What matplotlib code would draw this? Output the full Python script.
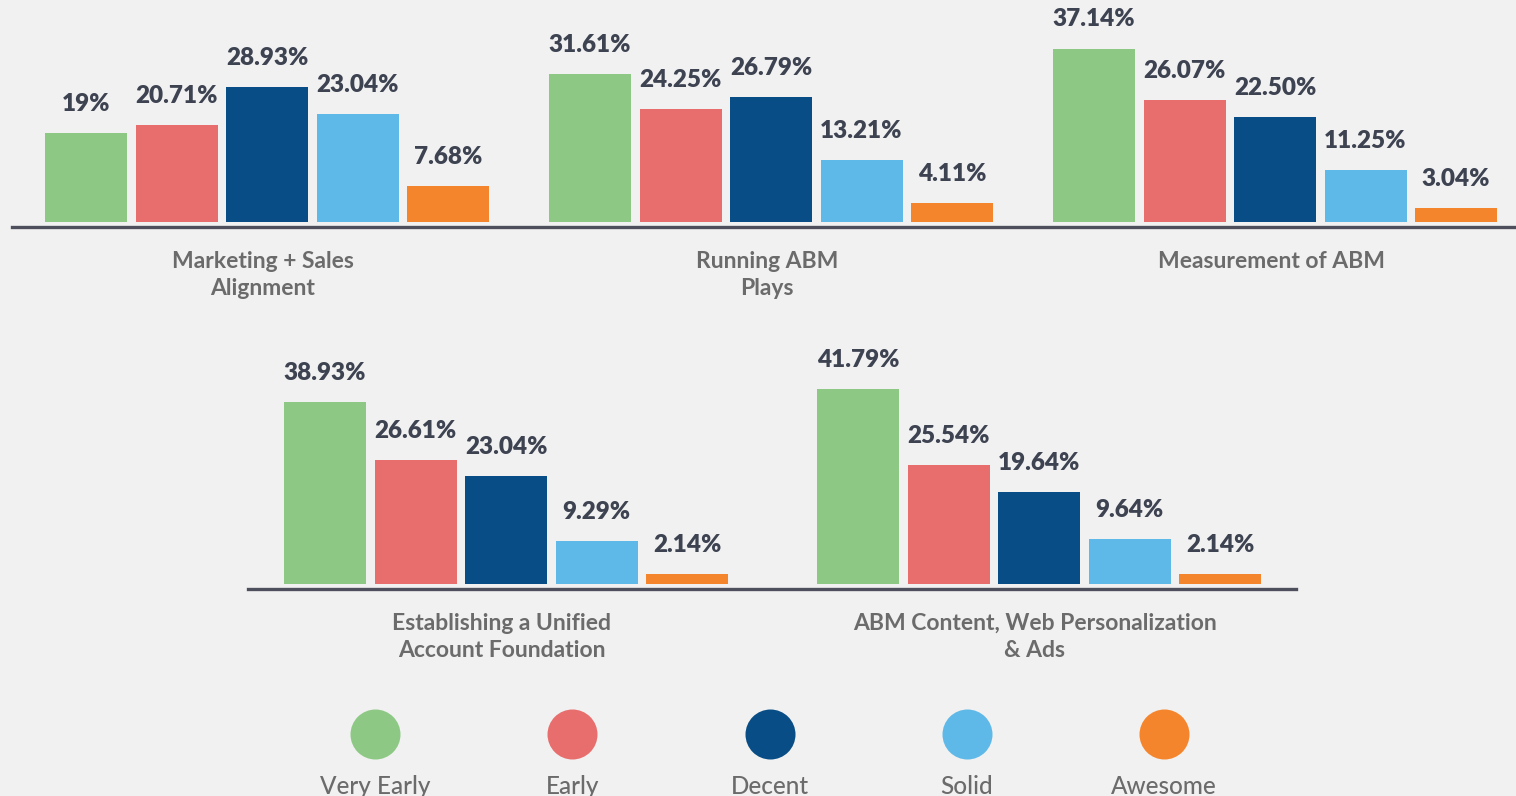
#!/usr/bin/env python3
"""ABM maturity by practice area: grouped bars in two rows plus a circle legend."""

import matplotlib

matplotlib.use("Agg")
import matplotlib.pyplot as plt


LEVELS = ["Very Early", "Early", "Decent", "Solid", "Awesome"]
COLORS = ["#8dc985", "#e76e6d", "#084d85", "#5fb9e8", "#f5852d"]

TOP_CATEGORIES = [
    "Marketing + Sales\nAlignment",
    "Running ABM\nPlays",
    "Measurement of ABM",
]
TOP_VALUES = [
    [19.00, 20.71, 28.93, 23.04, 7.68],
    [31.61, 24.25, 26.79, 13.21, 4.11],
    [37.14, 26.07, 22.50, 11.25, 3.04],
]
TOP_LABELS = [
    ["19%", "20.71%", "28.93%", "23.04%", "7.68%"],
    ["31.61%", "24.25%", "26.79%", "13.21%", "4.11%"],
    ["37.14%", "26.07%", "22.50%", "11.25%", "3.04%"],
]

BOTTOM_CATEGORIES = [
    "Establishing a Unified\nAccount Foundation",
    "ABM Content, Web Personalization\n& Ads",
]
BOTTOM_VALUES = [
    [38.93, 26.61, 23.04, 9.29, 2.14],
    [41.79, 25.54, 19.64, 9.64, 2.14],
]
BOTTOM_LABELS = [
    ["38.93%", "26.61%", "23.04%", "9.29%", "2.14%"],
    ["41.79%", "25.54%", "19.64%", "9.64%", "2.14%"],
]

BG = "#f1f1f1"
VALUE_COLOR = "#3e4352"
CAT_COLOR = "#6b6b6b"
AXIS_COLOR = "#4d4f5c"

W, H = 1516, 796
PX_PER_PCT = 4.68
BAR_STEP = 90.5
BAR_WIDTH = 82

plt.rcParams["font.family"] = ["Lato", "DejaVu Sans"]


def bar_row(fig, left, bottom, width, height, centers, values, labels, cats):
    ax = fig.add_axes([left / W, bottom / H, width / W, height / H])
    ax.set_facecolor("none")
    ax.set_xlim(0, width)
    ax.set_ylim(-1, height / PX_PER_PCT - 1)
    for center, vals, labs, cat in zip(centers, values, labels, cats):
        for i, (v, lab) in enumerate(zip(vals, labs)):
            x = center + (i - 2) * BAR_STEP
            ax.bar(x, v, width=BAR_WIDTH, color=COLORS[i], linewidth=0)
            ax.annotate(lab, (x, v), xytext=(0, 13), textcoords="offset points",
                        ha="center", va="bottom", fontsize=17.5, fontweight="heavy",
                        color=VALUE_COLOR)
        ax.annotate(cat, (center - 4, -1), xytext=(0, -17), textcoords="offset points",
                    ha="center", va="top", fontsize=16.5, fontweight="bold",
                    color=CAT_COLOR, linespacing=1.35, annotation_clip=False)
    for side in ("top", "left", "right"):
        ax.spines[side].set_visible(False)
    ax.spines["bottom"].set_color(AXIS_COLOR)
    ax.spines["bottom"].set_linewidth(2.4)
    ax.spines["bottom"].set_position(("data", -1))
    ax.set_xticks([])
    ax.set_yticks([])
    return ax


fig = plt.figure(figsize=(W / 100, H / 100), dpi=100, facecolor=BG)

# top row: axis line from x=12 to the right edge, at y=227 from the top
bar_row(fig, 12, H - 227, W - 12, 227, [255, 759, 1263],
        TOP_VALUES, TOP_LABELS, TOP_CATEGORIES)

# bottom row: axis line from x=248 to 1296, at y=589 from the top
bar_row(fig, 248, H - 589, 1048, 330, [258, 791],
        BOTTOM_VALUES, BOTTOM_LABELS, BOTTOM_CATEGORIES)

# legend: circles above labels
leg = fig.add_axes([0, 0, 1, 110 / H])
leg.set_xlim(0, W)
leg.set_ylim(0, 110)
leg.axis("off")
for i, (name, color) in enumerate(zip(LEVELS, COLORS)):
    x = 375 + i * 197.3
    leg.scatter([x], [62], s=1296, color=color, linewidths=0)
    leg.text(x, 9, name, ha="center", va="center", fontsize=17.5,
             fontweight="medium", color=CAT_COLOR)

fig.savefig("out.png", dpi=100, facecolor=BG)
